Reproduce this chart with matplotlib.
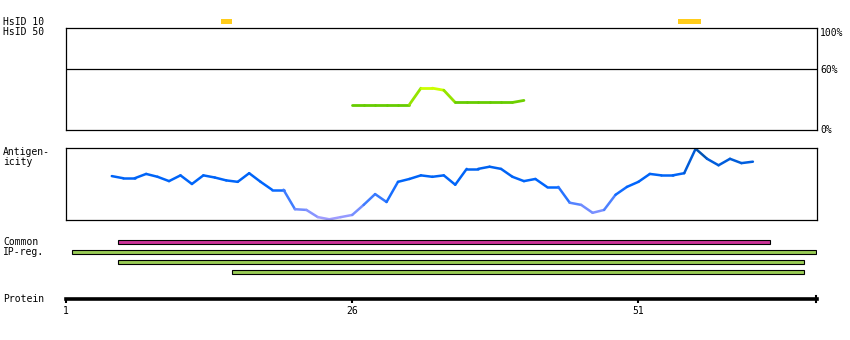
import numpy as np
import matplotlib
matplotlib.use("Agg")
import matplotlib.pyplot as plt
from matplotlib.collections import LineCollection
from matplotlib.colors import LinearSegmentedColormap
from matplotlib.patches import Rectangle

# protein length and residue window shown
prot_len = 66
x_max = 66.6

# HsID 10 hits (start, end residue)
hsid10 = [(15, 15), (55, 56)]

# HsID 50 identity (%) starting at residue 26
hsid50_start = 26
hsid50 = [25, 25, 25, 25, 25, 25, 41, 41, 39, 27, 27, 27, 27, 27, 27, 29]

# antigenicity score (0-100) starting at residue 5
ag_start = 5
antigenicity = [61, 58, 58, 64, 60, 54, 62, 50, 62, 59, 55, 53, 65, 53, 42, 42,
                15, 14, 4, 1, 4, 7, 21, 36, 25, 53, 57, 62, 60, 62, 49, 71,
                71, 74, 71, 60, 54, 57, 46, 46, 24, 21, 10, 14, 35, 46, 53, 64,
                62, 62, 65, 99, 85, 76, 85, 79, 81]

# common IP regions (start, end, colour)
ip_regions = [(6, 62, '#cc3399'), (2, 66, '#99cc55'), (6, 65, '#99cc55'), (16, 65, '#99cc55')]

tick_res = [1, 26, 51]

W, H = 850, 340
fig = plt.figure(figsize=(8.5, 3.4), dpi=100)
fig.patch.set_facecolor('white')
mono = 'DejaVu Sans Mono'
fs = 7


def px_axes(left, top, right, bottom):
    return fig.add_axes([left / W, 1 - bottom / H, (right - left) / W, (bottom - top) / H])


def label(x, y, s, **kw):
    fig.text(x / W, 1 - y / H, s, family=mono, fontsize=fs, va='center', **kw)


def colored_line(ax, xs, ys, cmap, vmin, vmax, lw):
    pts = np.column_stack([xs, ys])
    segs = np.stack([pts[:-1], pts[1:]], axis=1)
    mid = (np.array(ys[:-1]) + np.array(ys[1:])) / 2
    lc = LineCollection(segs, cmap=cmap, norm=plt.Normalize(vmin, vmax), linewidths=lw,
                        capstyle='round')
    lc.set_array(mid)
    ax.add_collection(lc)


# HsID 10 track
ax10 = px_axes(66, 16, 817, 28)
ax10.set_xlim(1, x_max)
ax10.set_ylim(0, 1)
ax10.axis('off')
for s, e in hsid10:
    ax10.add_patch(Rectangle((s - 0.5, 0.35), e - s + 1, 0.4, color='#ffcc1a', lw=0))

# HsID 50 panel
ax50 = px_axes(66, 28, 817, 130)
ax50.set_xlim(1, x_max)
ax50.set_ylim(0, 100)
ax50.set_xticks([])
ax50.set_yticks([])
for sp in ax50.spines.values():
    sp.set_linewidth(0.9)
ax50.axhline(60, color='black', lw=0.9)
green = LinearSegmentedColormap.from_list('g', ['#66cc00', '#ccff00'])
xs50 = hsid50_start + np.arange(len(hsid50))
colored_line(ax50, xs50, hsid50, green, 27, 40, 2.0)

# antigenicity panel
axag = px_axes(66, 148, 817, 220)
axag.set_xlim(1, x_max)
axag.set_ylim(0, 100)
axag.set_xticks([])
axag.set_yticks([])
for sp in axag.spines.values():
    sp.set_linewidth(0.9)
blue = LinearSegmentedColormap.from_list('b', [(0, '#a8a0ff'), (0.45, '#0066ff'),
                                               (0.75, '#0062f0'), (1, '#004c99')])
xsag = ag_start + np.arange(len(antigenicity))
colored_line(axag, xsag, antigenicity, blue, 0, 100, 1.8)

# common IP regions
axip = px_axes(66, 237, 817, 277)
axip.set_xlim(1, x_max)
axip.set_ylim(4, 0)
axip.axis('off')
for i, (s, e, c) in enumerate(ip_regions):
    axip.add_patch(Rectangle((s - 0.5, i + 0.3), e - s + 1, 0.42, facecolor=c,
                             edgecolor='black', lw=0.8))

# protein axis
axp = px_axes(66, 290, 817, 299)
axp.set_xlim(1, x_max)
axp.set_ylim(0, 1)
for k in ['top', 'left', 'right']:
    axp.spines[k].set_visible(False)
axp.spines['bottom'].set_linewidth(2.6)
axp.set_yticks([])
axp.set_xticks(tick_res)
axp.set_xticklabels([str(t) for t in tick_res], family=mono, fontsize=fs)
axp.tick_params(axis='x', length=3, width=1.5, pad=2)
axp.plot([x_max - 0.05, x_max - 0.05], [-0.35, 0.3], color='black', lw=1.5,
         clip_on=False)
axp.patch.set_alpha(0)

# labels
label(3, 22, 'HsID 10')
label(3, 32, 'HsID 50')
label(820, 33, '100%')
label(820, 70, '60%')
label(820, 130, '0%')
label(3, 152, 'Antigen-')
label(3, 162, 'icity')
label(3, 242, 'Common')
label(3, 252, 'IP-reg.')
label(3, 299, 'Protein')

fig.savefig('out.png', dpi=100, facecolor='white')
